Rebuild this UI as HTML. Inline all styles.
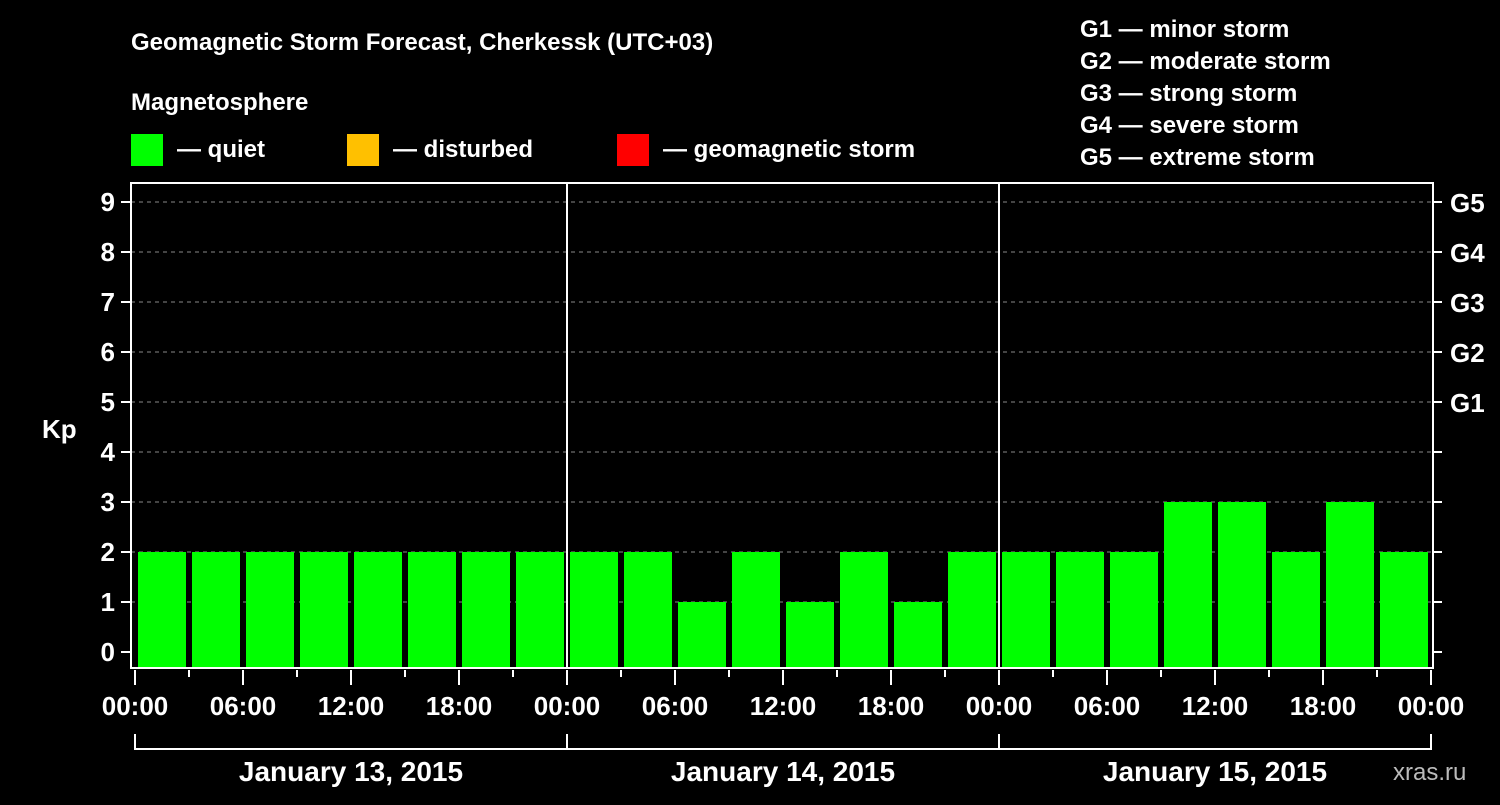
<!DOCTYPE html>
<html><head><meta charset="utf-8"><style>
body{margin:0;background:#000;width:1500px;height:800px;overflow:hidden}
text{font-family:"Liberation Sans",Arial,sans-serif;font-weight:bold;fill:#fff}
</style></head><body>
<svg id="c" width="1500" height="800" xmlns="http://www.w3.org/2000/svg">
<text x="131" y="50" font-size="24">Geomagnetic Storm Forecast, Cherkessk (UTC+03)</text>
<text x="131" y="110" font-size="24">Magnetosphere</text>
<g><rect x="131" y="134" width="32" height="32" fill="#00ff00"/><text x="177" y="157" font-size="24">— quiet</text></g>
<g><rect x="347" y="134" width="32" height="32" fill="#ffc000"/><text x="393" y="157" font-size="24">— disturbed</text></g>
<g><rect x="617" y="134" width="32" height="32" fill="#ff0000"/><text x="663" y="157" font-size="24">— geomagnetic storm</text></g>
<g font-size="24">
<text x="1080" y="37">G1 — minor storm</text>
<text x="1080" y="69">G2 — moderate storm</text>
<text x="1080" y="101">G3 — strong storm</text>
<text x="1080" y="133">G4 — severe storm</text>
<text x="1080" y="165">G5 — extreme storm</text>
</g>
<text x="42" y="438" font-size="26">Kp</text>
<text x="1393" y="780" font-size="24" fill="#bbb" style="fill:#bbb;font-weight:normal">xras.ru</text>
<g id="g"></g>
</svg>
<script>
const kpValues=[2,2,2,2,2,2,2,2, 2,2,1,2,1,2,1,2, 2,2,2,3,3,2,3,2];
const yTicks=[0,1,2,3,4,5,6,7,8,9];
const gLabels=["G1","G2","G3","G4","G5"];
const timeLabels=["00:00","06:00","12:00","18:00","00:00","06:00","12:00","18:00","00:00","06:00","12:00","18:00","00:00"];
const dayLabels=["January 13, 2015","January 14, 2015","January 15, 2015"];
const NS="http://www.w3.org/2000/svg";
const g=document.getElementById('g');
const L=131,R=1433,T=183,B=668,X0=135,SLOT=54;
const y=v=>652-50*v;
const x=i=>X0+SLOT*i;
function mk(t,a,txt){const e=document.createElementNS(NS,t);for(const k in a)e.setAttribute(k,a[k]);if(txt!==undefined)e.textContent=txt;g.appendChild(e);return e;}
yTicks.forEach(v=>{
 if(v>0){const l=mk('line',{x1:L,x2:R,y1:y(v),y2:y(v),stroke:'#888','stroke-dasharray':'4,4','stroke-width':1});
 
 }
 const t=mk('line',{x1:L-10,x2:L,y1:y(v),y2:y(v),stroke:'#fff','stroke-width':2});
 
 
 const t2=mk('line',{x1:R,x2:R+9,y1:y(v),y2:y(v),stroke:'#fff','stroke-width':2});
 
 
 const lb=mk('text',{x:L-16,y:y(v)+9,'font-size':26,'text-anchor':'end'},String(v));
 
 
});
gLabels.forEach((s,i)=>{
 const lb=mk('text',{x:1450,y:y(5+i)+10,'font-size':26},s);
 
 
});
kpValues.forEach((v,i)=>{
 const c=v>=5?'#ff0000':(v>=4?'#ffc000':'#00ff00');
 const r=mk('rect',{x:x(i)+3,y:y(v),width:48,height:B-y(v),fill:c});
 
 
});
const fr=mk('rect',{x:L,y:T,width:R-L,height:B-T,fill:'none',stroke:'#fff','stroke-width':2});


[1,2].forEach(d=>{const l=mk('line',{x1:x(8*d),x2:x(8*d),y1:T,y2:B,stroke:'#fff','stroke-width':2});
 
 });
for(let i=0;i<=24;i++){
 const l=mk('line',{x1:x(i),x2:x(i),y1:B+2,y2:i%2?B+9:B+17,stroke:'#fff','stroke-width':2});
 
 
}
timeLabels.forEach((s,i)=>{
 const lb=mk('text',{x:x(2*i),y:715,'font-size':26,'text-anchor':'middle'},s);
 
 
});
const br=mk('line',{x1:x(0),x2:x(24),y1:749,y2:749,stroke:'#fff','stroke-width':2});


for(let d=0;d<=3;d++){const l=mk('line',{x1:x(8*d),x2:x(8*d),y1:734,y2:750,stroke:'#fff','stroke-width':2});
 
 }
dayLabels.forEach((s,i)=>{
 const lb=mk('text',{x:x(8*i+4),y:781,'font-size':28,'text-anchor':'middle'},s);
 
 
});
</script>
</body></html>
